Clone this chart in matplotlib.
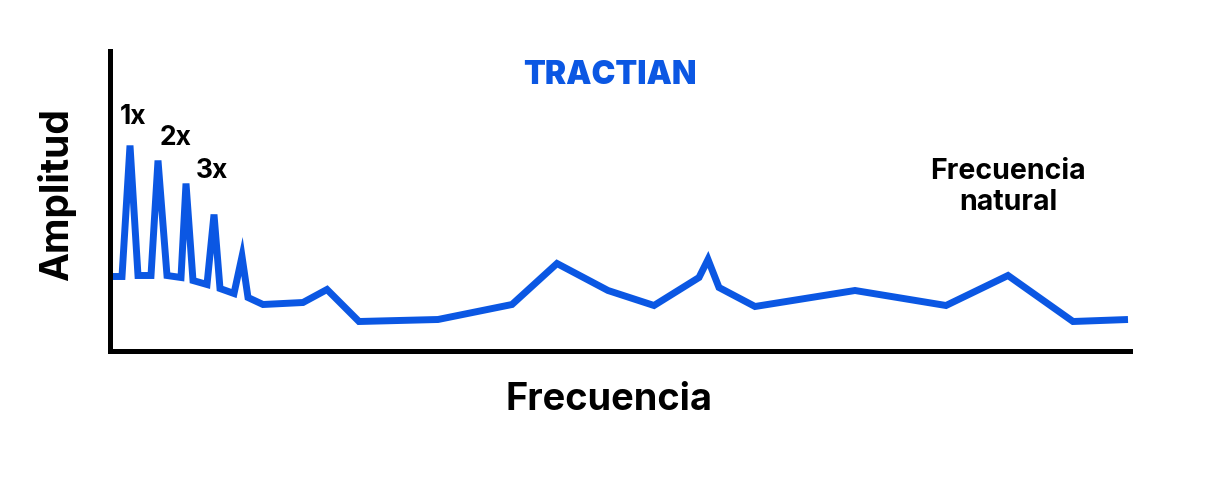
import matplotlib
matplotlib.use("Agg")
import matplotlib.pyplot as plt

W, H = 1218, 480

# Data (frequency in arbitrary units, amplitude in arbitrary units)
frequency = [110, 122, 130, 138, 151, 158, 167, 181, 186, 193, 207, 214, 220, 234,
             242, 248, 263, 303, 327, 359, 438, 512, 557, 608, 654, 699, 708, 719,
             755, 855, 946, 1008, 1073, 1128]
amplitude = [74, 74, 205, 75, 75, 190, 75, 73, 167, 70, 66, 136, 62, 57,
             94, 53, 46, 48, 61, 29, 31, 46, 87, 60, 45, 73, 91, 63,
             44, 60, 45, 75, 29, 31]

harmonic_labels = ["1x", "2x", "3x"]
harmonic_pos = [(133, 117), (176, 138), (212, 171)]

BLUE = "#0B57E3"
FONT = ["Inter", "DejaVu Sans"]

fig = plt.figure(figsize=(W / 100, H / 100), dpi=100)
x0, x1, y0, y1 = 109.5, 1130, 350.5, 51
ax = fig.add_axes([x0 / W, 1 - y0 / H, (x1 - x0) / W, (y0 - y1) / H])
ax.plot(frequency, amplitude, color=BLUE, lw=5, solid_joinstyle="miter",
        solid_capstyle="butt")
ax.set_xlim(x0, x1)
ax.set_ylim(0, y0 - y1)
for s in ["top", "right"]:
    ax.spines[s].set_visible(False)
for s in ["left", "bottom"]:
    ax.spines[s].set_linewidth(3.6)
    ax.spines[s].set_color("black")
ax.set_xticks([])
ax.set_yticks([])

def ftext(px, py, s, **kw):
    fig.text(px / W, 1 - py / H, s, family=FONT, **kw)

ftext(609, 400, "Frecuencia", fontsize=27.3, fontweight="bold", ha="center", va="center")
ftext(57, 195, "Amplitud", fontsize=28, fontweight="bold", ha="center", va="center",
      rotation=90)
ftext(1008, 187, "Frecuencia\nnatural", fontsize=20.5, fontweight="bold",
      ha="center", va="center", linespacing=1.18)
for lab, (px, py) in zip(harmonic_labels, harmonic_pos):
    ftext(px, py, lab, fontsize=19, fontweight="bold", ha="center", va="center")
ftext(610, 75, "TRACTIAN", fontsize=23, fontweight="black", color=BLUE,
      ha="center", va="center")

fig.savefig("out.png", dpi=100, facecolor="white")
